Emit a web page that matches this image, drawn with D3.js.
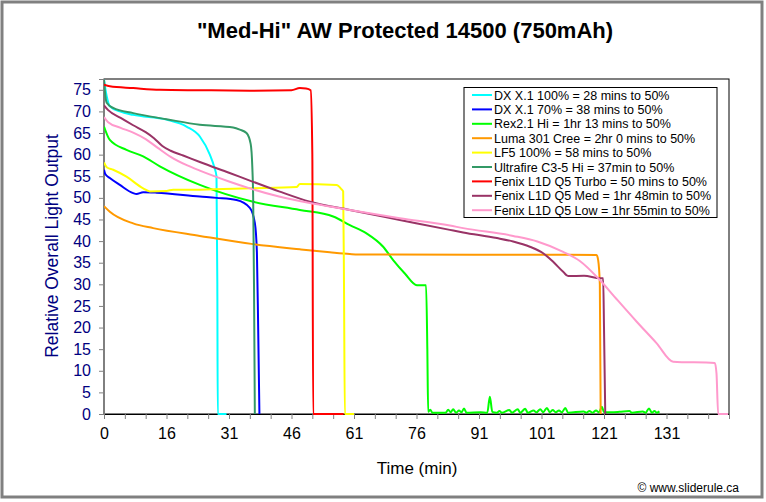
<!DOCTYPE html>
<html><head><meta charset="utf-8">
<script src="https://cdn.jsdelivr.net/npm/d3@7"></script>
<style>body{margin:0;background:#fff}svg{display:block;font-family:"Liberation Sans",Arial,sans-serif}</style>
</head><body><svg id="c" width="766" height="502"></svg>
<script>
// ---- data (time in min along axis, relative output) ----
const xTickLabels = ["0","16","31","46","61","76","91","101","121","131"];
const yTicks = [0,5,10,15,20,25,30,35,40,45,50,55,60,65,70,75];

const dxX1_100 = [[0,77.3],[0.65,73.5],[1.4,71.2],[3.8,70],[7,69.2],[15,68.1],[19.8,66.5],[23,64.2],[25.4,60],[26.5,57],[27,55],[27.2,30],[27.3,0],[29.4,0]];
const dxX1_70 = [[0,56.5],[0.3,55.5],[1.4,54.6],[3.8,53],[7,51.1],[7.8,50.9],[9.4,51.3],[12.6,51.2],[23,50.3],[27,50],[31.8,49.5],[35,47.7],[36.2,44.2],[36.7,37.3],[37,20],[37.3,0]];
const rex21 = [[0,66.5],[1.4,63.4],[5.4,61.1],[9.4,59.6],[13.4,57.3],[23,53],[35.8,49.1],[47,47.2],[55,45.7],[59,43.7],[63,41.8],[67,38.7],[69.4,35.6],[72.2,32.5],[75.1,29.8],[77.3,29.8],[77.6,15],[77.8,0.5],[78.3,1.0],[78.8,0.3],[82,0.3],[82.6,1.0],[83.2,0.4],[83.8,1.1],[84.5,0.3],[85.2,0.8],[85.8,0.4],[86.4,1.3],[87,0.3],[90.4,0.4],[92,0.3],[92.6,4.0],[93.2,0.5],[94.3,0.3],[94.9,0.7],[95.5,0.3],[97.3,0.9],[97.9,0.3],[99.3,1.1],[99.9,0.3],[101.1,1.2],[101.7,0.3],[103.1,0.8],[103.8,0.4],[104.7,1.1],[105.4,0.4],[106.3,1.4],[107,0.4],[107.7,0.9],[108.4,0.4],[109.2,0.8],[109.9,0.4],[110.7,1.4],[111.4,0.3],[115.1,0.6],[115.8,0.3],[116.5,0.7],[117.2,0.3],[118.1,0.8],[118.8,0.4],[119.5,1.7],[120,0.4],[121.7,0.4],[123.7,0.5],[126.1,0.7],[126.7,0.3],[129.3,0.6],[130,0.3],[130.8,1.3],[131.5,0.3],[132.1,0.7],[132.7,0.3],[133.3,0.6]];
const luma301 = [[0,48.1],[1.4,46.8],[7,44.1],[11.8,43],[23,41.2],[35.8,39.3],[47,38.1],[54.2,37.4],[59,37.0],[61,36.9],[118.2,36.8],[118.6,35.6],[119,30],[119.2,0]];
const lf5 = [[0,58.2],[0.65,57.1],[2.2,56.5],[5.4,54.9],[9.4,52.2],[11,51.5],[15,51.6],[16.6,51.9],[23,51.9],[35,52.2],[46.2,52.5],[47,53.2],[55.8,53.0],[57,52],[57.4,51.5],[57.6,30],[57.8,0],[60,0]];
const ultrafire = [[0,77.3],[0.25,74.3],[0.65,72],[2.2,70.8],[7,69.6],[15,68.2],[23,66.9],[31,66.3],[32.6,65.8],[34.2,65],[35.2,62.5],[35.6,57],[35.8,50],[36.0,30],[36.2,0]];
const l1dTurbo = [[0,76.2],[1.4,75.8],[7,75.4],[13.4,75],[23,74.9],[35,74.8],[45,74.9],[47,75.4],[48.5,75.3],[49.6,74.9],[50,60],[50.2,0],[57.5,0]];
const l1dMed = [[0,71.4],[1,70.3],[4,68.5],[7,66.8],[10,65.2],[12,63.8],[14,62],[16,60.9],[19,59.8],[23,58.3],[30,55.8],[35,54],[42,51.5],[49.4,49.1],[59,47.2],[71,44.9],[83,42.6],[86.2,42],[94.3,40.7],[98.2,39.9],[102.2,38.7],[105.4,37.2],[107.8,35.2],[110.2,32.9],[111.4,31.9],[115.2,32],[119,31.4],[119.8,31.4],[120,20],[120.3,0]];
const l1dLow = [[0,68.7],[1,67.5],[4,66.2],[7,65.1],[10,63.6],[13,61.5],[16,59.5],[20,57.5],[23,56.3],[30,53.8],[35,52.2],[42,50.3],[49.4,48.8],[54.2,48],[59,47.2],[71,45.3],[83,43.6],[86.2,43],[98.2,41.2],[104,39.9],[110.2,37.5],[114.2,35.4],[119,31.0],[123,26.6],[127.8,21.4],[132.6,16.4],[136.6,12.1],[146.6,11.8],[147,9.4],[147.4,0],[149.8,0]];

const seriesNames = ["DX X.1 100% = 28 mins to 50%","DX X.1 70% = 38 mins to 50%","Rex2.1 Hi = 1hr 13 mins to 50%","Luma 301 Cree = 2hr 0 mins to 50%","LF5 100% = 58 mins to 50%","Ultrafire C3-5 Hi = 37min to 50%","Fenix L1D Q5 Turbo = 50 mins to 50%","Fenix L1D Q5 Med = 1hr 48min to 50%","Fenix L1D Q5 Low = 1hr 55min to 50%"];
const seriesData = [dxX1_100, dxX1_70, rex21, luma301, lf5, ultrafire, l1dTurbo, l1dMed, l1dLow];
const seriesColors = ["#00FFFF","#0000FF","#00FF00","#FF9900","#FFFF00","#339966","#FF0000","#993366","#FF99CC"];

// ---- layout ----
const svg = d3.select("#c");
const L = 104, R = 729, T = 79, B = 414;
const x = d3.scaleLinear().domain([0,150]).range([L,R]);
const y = d3.scaleLinear().domain([0,77.5]).range([B,T]);

svg.append("rect").attr("x",2).attr("y",2).attr("width",760).attr("height",495)
  .attr("fill","#fff").attr("stroke","#808080").attr("stroke-width",3);

// title
svg.append("text").attr("x",405).attr("y",38).attr("text-anchor","middle")
  .attr("font-size",22).attr("font-weight","bold").attr("fill","#000")
  .text('"Med-Hi" AW Protected 14500 (750mAh)');

// plot area
svg.append("rect").attr("x",L).attr("y",T).attr("width",R-L).attr("height",B-T)
  .attr("fill","#fff").attr("stroke","#000").attr("stroke-width",1);

// axes
const xAxis = d3.axisBottom(x).tickValues(d3.range(0,151,5)).tickSize(5).tickPadding(9)
  .tickFormat(d => (d % 15 === 0 && d/15 < xTickLabels.length) ? xTickLabels[d/15] : "");
const gx = svg.append("g").attr("transform",`translate(0,${B})`).call(xAxis);
gx.select(".domain").attr("stroke","#000");
gx.selectAll(".tick line").attr("stroke","#808080");
gx.selectAll("text").attr("font-size",16).attr("fill","#000").attr("font-family","Liberation Sans, Arial, sans-serif");

const yAxis = d3.axisLeft(y).tickValues(yTicks).tickSize(5).tickPadding(8);
const gy = svg.append("g").attr("transform",`translate(${L},0)`).call(yAxis);
gy.select(".domain").attr("stroke","#808080");
gy.selectAll(".tick line").attr("stroke","#808080");
gy.selectAll("text").attr("font-size",16).attr("fill","#000080").attr("font-family","Liberation Sans, Arial, sans-serif");

// axis titles
svg.append("text").attr("x",417).attr("y",474).attr("text-anchor","middle")
  .attr("font-size",17).attr("fill","#000").text("Time (min)");
svg.append("text").attr("transform","translate(58,246) rotate(-90)").attr("text-anchor","middle")
  .attr("font-size",17.5).attr("fill","#000080").text("Relative Overall Light Output");
svg.append("text").attr("x",739).attr("y",492).attr("text-anchor","end")
  .attr("font-size",12).attr("fill","#000").text("\u00A9 www.sliderule.ca");

// lines
const line = d3.line().x(d => x(d[0])).y(d => y(d[1])).curve(d3.curveMonotoneX);
svg.append("clipPath").attr("id","pc").append("rect")
  .attr("x",L).attr("y",T).attr("width",R-L).attr("height",B-T+1);
svg.append("g").attr("clip-path","url(#pc)").selectAll("path").data(seriesData).join("path")
  .attr("d",line).attr("fill","none").attr("stroke",(d,i)=>seriesColors[i])
  .attr("stroke-width",2).attr("stroke-linejoin","round");

// legend
const lg = svg.append("g");
lg.append("rect").attr("x",464).attr("y",87.5).attr("width",253).attr("height",130)
  .attr("fill","#fff").attr("stroke","#000").attr("stroke-width",1);
seriesNames.forEach((n,i) => {
  const yy = 95 + i*14.4;
  lg.append("line").attr("x1",472).attr("x2",492).attr("y1",yy).attr("y2",yy)
    .attr("stroke",seriesColors[i]).attr("stroke-width",2);
  lg.append("text").attr("x",494).attr("y",yy+4.5).attr("font-size",12.5).attr("fill","#000").text(n);
});
</script></body></html>
